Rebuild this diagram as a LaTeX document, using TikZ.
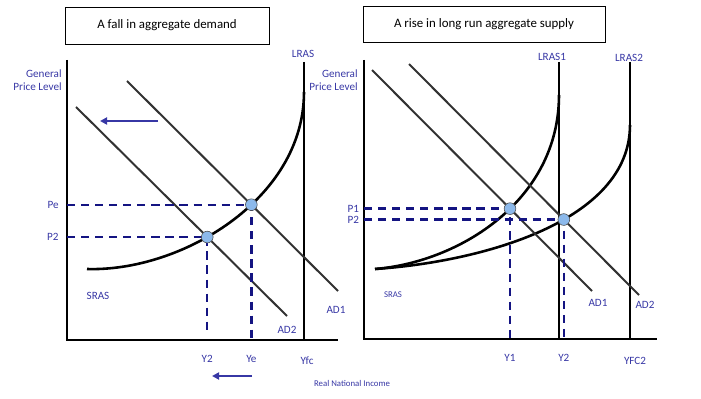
\documentclass[tikz,border=0pt]{standalone}
\usepackage{fontspec}
\setmainfont{Carlito}
\usetikzlibrary{arrows.meta, intersections, positioning}
\definecolor{lblblue}{RGB}{55,55,165}
\definecolor{dashnavy}{RGB}{20,20,130}
\definecolor{dotblue}{RGB}{140,185,235}
\definecolor{adgrey}{RGB}{50,50,50}

\tikzset{
  axis/.style={line width=1.6pt},
  lrasline/.style={line width=2pt},
  srascurve/.style={line width=2.2pt},
  adline/.style={line width=1.7pt, adgrey},
  guide/.style={dashnavy, line width=2pt, dash pattern=on 7pt off 5pt},
  eqdot/.style={circle, draw=black!70, fill=dotblue, inner sep=0pt, minimum size=10pt, line width=0.5pt},
  lbl/.style={text=lblblue, font=\fontsize{9.5}{11}\selectfont, inner sep=1pt},
  smalllbl/.style={text=lblblue, font=\fontsize{7.5}{8}\selectfont, inner sep=1pt},
  titlebox/.style={draw, line width=0.8pt, font=\fontsize{11}{13}\selectfont},
  shiftarrow/.style={lblblue, line width=1.6pt, -{Triangle[length=6pt,width=6pt]}}
}

\begin{document}
\begin{tikzpicture}[x=0.03cm, y=-0.03cm]
  \useasboundingbox (0,0) rectangle (701,399);

  % Left: a fall in aggregate demand
  \node[titlebox, minimum width=6.12cm, minimum height=1.11cm] (titleL) at (167,25.5) {A fall in aggregate demand};
  \coordinate (O1) at (67,340);
  \draw[axis] (67,60) -- (O1) -- (338,340);
  \node[lbl, align=right, anchor=north east] (gplL) at (63,68) {General\\Price Level};
  \draw[lrasline] (304,62) -- (304,340);
  \node[lbl] (lrasL) at (303,54) {LRAS};
  \draw[srascurve, name path=srasL] (87,269) .. controls (180,272) and (304,200) .. (304,92);
  \draw[adline, name path=adA] (127,81) -- (338,291);
  \draw[adline, name path=adB] (76,107) -- (287,316);
  \path[name intersections={of=srasL and adA, by=Pe}];
  \path[name intersections={of=srasL and adB, by=PtwoL}];
  \draw[guide] (O1 |- Pe) -- (Pe) -- (Pe |- O1);
  \draw[guide] (O1 |- PtwoL) -- (PtwoL) -- ([yshift=6pt]PtwoL |- O1);
  \node[eqdot] (dotPe) at (Pe) {};
  \node[eqdot] (dotP2L) at (PtwoL) {};
  \node[lbl, left=6pt] (lblPe) at (O1 |- Pe) {Pe};
  \node[lbl, left=6pt] (lblP2L) at (O1 |- PtwoL) {P2};
  \node[lbl, below=12pt] (lblY2L) at (PtwoL |- O1) {Y2};
  \node[lbl, below=12pt] (lblYe) at (Pe |- O1) {Ye};
  \node[lbl] (lblYfc) at (307,361) {Yfc};
  \node[lbl] (srasLlbl) at (98,296) {SRAS};
  \node[lbl] (adAlbl) at (336,310) {AD1};
  \node[lbl] (adBlbl) at (287,330) {AD2};
  \draw[shiftarrow] (158,121) -- (100,121);
  \draw[shiftarrow] (252,376) -- (212,376);
  \node[smalllbl] (rni) at (352,383) {Real National Income};

  % Right: a rise in long run aggregate supply
  \node[titlebox, minimum width=7.26cm, minimum height=1.08cm] (titleR) at (484,24) {A rise in long run aggregate supply};
  \coordinate (O2) at (364,339);
  \draw[axis] (364,60) -- (O2) -- (657,339);
  \node[lbl, align=right, anchor=north east] (gplR) at (359,68) {General\\Price Level};
  \draw[lrasline] (559,62) -- (559,339);
  \draw[lrasline] (630,62) -- (630,339);
  \node[lbl] (lras1) at (552,57) {LRAS1};
  \node[lbl] (lras2) at (629,58) {LRAS2};
  \draw[srascurve, name path=sras1] (375,269) .. controls (460,262) and (559,200) .. (559,95);
  \draw[srascurve, name path=sras2] (375,269) .. controls (480,262) and (630,222) .. (630,125);
  \draw[adline, name path=ad1] (372,70) -- (592,291);
  \draw[adline, name path=ad2] (409,64) -- (639,295);
  \path[name intersections={of=sras1 and ad1, by=Pone}];
  \path[name intersections={of=sras2 and ad2, by=Ptwo}];
  \draw[guide] (O2 |- Pone) -- (Pone) -- (Pone |- O2);
  \draw[guide] (O2 |- Ptwo) -- (Ptwo) -- (Ptwo |- O2);
  \node[eqdot] (dotP1) at (Pone) {};
  \node[eqdot] (dotP2) at (Ptwo) {};
  \node[lbl, left=3pt] (lblP1) at (O2 |- Pone) {P1};
  \node[lbl, left=3pt] (lblP2) at (O2 |- Ptwo) {P2};
  \node[lbl, below=12pt] (lblY1) at (Pone |- O2) {Y1};
  \node[lbl, below=12pt] (lblY2) at (Ptwo |- O2) {Y2};
  \node[lbl] (lblYfc2) at (635,361) {YFC2};
  \node[smalllbl] (srasRlbl) at (393,295) {SRAS};
  \node[lbl] (ad1lbl) at (598,303) {AD1};
  \node[lbl] (ad2lbl) at (645,305) {AD2};
\end{tikzpicture}
\end{document}
